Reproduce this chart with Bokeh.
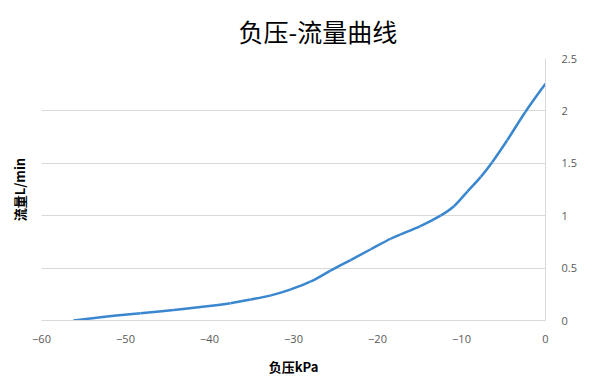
import numpy as np
from bokeh.plotting import figure
from bokeh.models import LinearAxis, Range1d, FixedTicker, Title
from bokeh.embed import file_html
from bokeh.resources import INLINE

# pressure (kPa) and flow (L/min)
pressure = [-56.2, -52.2, -48.2, -44.25, -40.3, -37.5, -35.1, -32.7, -30.4, -28.0,
            -25.6, -23.2, -20.8, -18.45, -17.3, -14.9, -12.5, -10.9, -9.3, -7.7,
            -6.35, -4.56, -2.4, 0]
flow = [0, 0.038, 0.07, 0.10, 0.135, 0.165, 0.20, 0.24, 0.295, 0.37,
        0.475, 0.577, 0.68, 0.78, 0.82, 0.90, 1.0, 1.09, 1.23, 1.37,
        1.51, 1.72, 1.99, 2.26]

x_ticks = [-60, -50, -40, -30, -20, -10, 0]
y_ticks = [0, 0.5, 1, 1.5, 2, 2.5]

GRID = "#d9d9d9"
TXT = "#595959"
CJK = "Noto Sans CJK SC"

p = figure(width=600, height=378, output_backend="svg", toolbar_location=None,
           x_range=Range1d(-60, 0), y_range=Range1d(0, 2.5),
           x_axis_location=None, y_axis_location=None,
           min_border_left=41, min_border_right=55, min_border_top=57, min_border_bottom=58)
p.outline_line_color = None
p.background_fill_color = "white"
p.border_fill_color = "white"

p.title = Title(text="负压-流量曲线", text_font=CJK, text_font_size="25px",
                text_font_style="normal", text_color="#000000", align="left",
                offset=197, standoff=20)

# bottom axis
xa = LinearAxis(ticker=FixedTicker(ticks=x_ticks))
xa.axis_line_color = GRID
xa.major_tick_line_color = None
xa.minor_tick_line_color = None
xa.major_label_text_font = "Open Sans"
xa.major_label_text_font_size = "11px"
xa.major_label_text_color = TXT
xa.major_label_standoff = 8
xa.axis_label = "负压kPa"
xa.axis_label_text_font = CJK
xa.axis_label_text_font_style = "bold"
xa.axis_label_text_font_size = "13px"
xa.axis_label_text_color = "#000000"
xa.axis_label_standoff = 11
p.add_layout(xa, "below")

# right axis with ticks
ya = LinearAxis(ticker=FixedTicker(ticks=y_ticks))
ya.axis_line_color = GRID
ya.major_tick_line_color = None
ya.minor_tick_line_color = None
ya.major_label_text_font = "Open Sans"
ya.major_label_text_font_size = "11px"
ya.major_label_text_color = TXT
ya.major_label_standoff = 10
p.add_layout(ya, "right")

# left axis carrying only the title
yl = LinearAxis(ticker=FixedTicker(ticks=[]))
yl.axis_line_color = None
yl.major_tick_line_color = None
yl.minor_tick_line_color = None
yl.major_label_text_font_size = "0px"
yl.axis_label = "流量L/min"
yl.axis_label_text_font = CJK
yl.axis_label_text_font_style = "bold"
yl.axis_label_text_font_size = "13px"
yl.axis_label_text_color = "#000000"
yl.axis_label_standoff = 13
p.add_layout(yl, "left")

p.xgrid.visible = False
p.ygrid.ticker = FixedTicker(ticks=y_ticks)
p.ygrid.grid_line_color = GRID
p.ygrid.grid_line_width = 1

# smoothed line (Catmull-Rom -> cubic Bezier) through the read points
px = np.array(pressure, dtype=float)
py = np.array(flow, dtype=float)
ex = np.concatenate([[px[0]], px, [px[-1]]])
ey = np.concatenate([[py[0]], py, [py[-1]]])
x0, y0 = px[:-1], py[:-1]
x1, y1 = px[1:], py[1:]
cx0 = x0 + (ex[2:-1] - ex[:-3]) / 6.0
cy0 = y0 + (ey[2:-1] - ey[:-3]) / 6.0
cx1 = x1 - (ex[3:] - ex[1:-2]) / 6.0
cy1 = y1 - (ey[3:] - ey[1:-2]) / 6.0
p.bezier(x0=x0, y0=y0, x1=x1, y1=y1, cx0=cx0, cy0=cy0, cx1=cx1, cy1=cy1,
         line_color="#3a87cf", line_width=2.5)

open("out.html", "w").write(file_html(p, INLINE))
